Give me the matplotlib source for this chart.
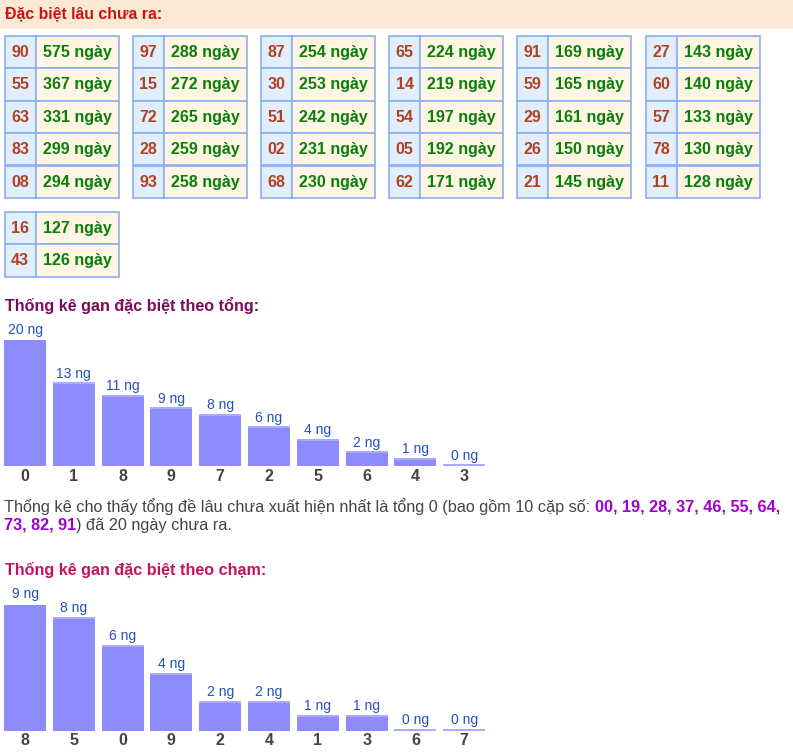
import matplotlib
matplotlib.use('Agg')
import matplotlib.pyplot as plt
from matplotlib.patches import Rectangle

plt.rcParams['font.family'] = ['Liberation Sans', 'DejaVu Sans']

# Data
nums = ['90', '55', '63', '83', '08', '97', '15', '72', '28', '93',
        '87', '30', '51', '02', '68', '65', '14', '54', '05', '62',
        '91', '59', '29', '26', '21', '27', '60', '57', '78', '11',
        '16', '43']
days = [575, 367, 331, 299, 294, 288, 272, 265, 259, 258,
        254, 253, 242, 231, 230, 224, 219, 197, 192, 171,
        169, 165, 161, 150, 145, 143, 140, 133, 130, 128,
        127, 126]

tong_labels = ['0', '1', '8', '9', '7', '2', '5', '6', '4', '3']
tong_vals = [20, 13, 11, 9, 8, 6, 4, 2, 1, 0]

cham_labels = ['8', '5', '0', '9', '2', '4', '1', '3', '6', '7']
cham_vals = [9, 8, 6, 4, 2, 2, 1, 1, 0, 0]

W, H = 793, 754
fig = plt.figure(figsize=(W / 100, H / 100), dpi=100)
bg = fig.add_axes([0, 0, 1, 1])
bg.set_xlim(0, W)
bg.set_ylim(H, 0)
bg.axis('off')

# header band
bg.add_patch(Rectangle((0, 0), W, 28.5, color='#fbe9d6', lw=0))
bg.text(5, 14, 'Đặc biệt lâu chưa ra:', color='#cc1111', fontsize=11.4,
        fontweight='bold', va='center')

# tables: 5 rows per table, 6 tables per block
border = '#8caef5'
row_h = 32.45
num_w, day_w = 31, 83
for k, (n, d) in enumerate(zip(nums, days)):
    t = k // 5
    r = k % 5
    block = t // 6
    col = t % 6
    x0 = 4.5 + 128.2 * col
    y0 = 35.7 + block * 176 + r * row_h
    bg.add_patch(Rectangle((x0, y0), num_w, row_h, facecolor='#e1eefe',
                           edgecolor=border, lw=1.2))
    bg.add_patch(Rectangle((x0 + num_w, y0), day_w, row_h, facecolor='#fef5e4',
                           edgecolor=border, lw=1.2))
    bg.text(x0 + num_w / 2, y0 + row_h / 2 + 0.5, n, color='#b5401c',
            fontsize=11.5, fontweight='bold', ha='center', va='center')
    bg.text(x0 + num_w + day_w / 2, y0 + row_h / 2 + 0.5, f'{d} ngày',
            color='#088008', fontsize=11.5, fontweight='bold',
            ha='center', va='center')

bg.text(5, 306, 'Thống kê gan đặc biệt theo tổng:', color='#7d0a5f',
        fontsize=11.6, fontweight='bold', va='center')
bg.text(5, 570, 'Thống kê gan đặc biệt theo chạm:', color='#c8125f',
        fontsize=11.6, fontweight='bold', va='center')


def bar_chart(labels, vals, base_y):
    ax = fig.add_axes([0.6 / W, (H - base_y) / H, 488 / W, 126 / H])
    x = range(len(vals))
    ax.bar(x, vals, width=0.86, color='#8c8cff', lw=0)
    top = max(vals) * 2 / 126
    ax.bar(x, [top] * len(vals), bottom=vals, width=0.86, color='#aaaaff', lw=0)
    for i, v in enumerate(vals):
        ax.annotate(f'{v} ng', (i, v + top), xytext=(0, 1),
                    textcoords='offset points', ha='center', va='bottom',
                    fontsize=10, color='#2250c0', annotation_clip=False)
    ax.set_xlim(-0.5, len(vals) - 0.5)
    ax.set_ylim(0, max(vals))
    ax.set_xticks(list(x))
    ax.set_xticklabels(labels, fontsize=11.5, fontweight='bold', color='#444444')
    ax.tick_params(axis='x', length=0, pad=2)
    ax.set_yticks([])
    for s in ax.spines.values():
        s.set_visible(False)
    ax.patch.set_alpha(0)
    return ax


bar_chart(tong_labels, tong_vals, 466)
bar_chart(cham_labels, cham_vals, 730.7)

# paragraph with mixed colours
renderer = fig.canvas.get_renderer()
gray, purple = '#444444', '#a000d0'
lines = [
    [('Thống kê cho thấy tổng đề lâu chưa xuất hiện nhất là tổng 0 (bao gồm 10 cặp số: ', gray, 'normal'),
     ('00, 19, 28, 37, 46, 55, 64,', purple, 'bold')],
    [('73, 82, 91', purple, 'bold'),
     (') đã 20 ngày chưa ra.', gray, 'normal')],
]
for li, parts in enumerate(lines):
    xpos = 4
    y = 507 + li * 18.5
    for s, c, w in parts:
        t = bg.text(xpos, y, s, color=c, fontsize=11.7, fontweight=w, va='center')
        xpos += t.get_window_extent(renderer=renderer).width

fig.savefig('out.png', dpi=100)
